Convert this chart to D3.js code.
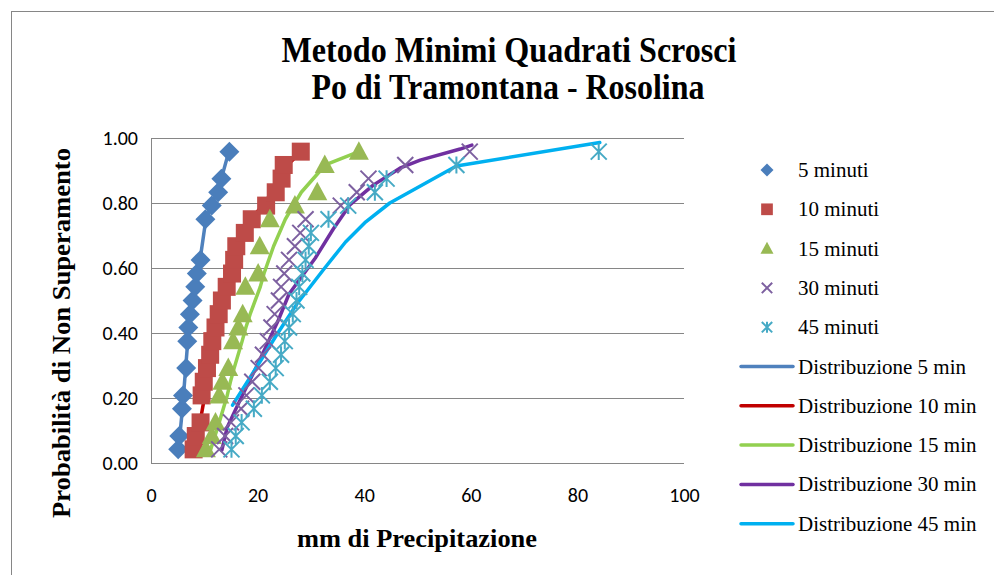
<!DOCTYPE html>
<html>
<head>
<meta charset="utf-8">
<script src="https://cdn.jsdelivr.net/npm/d3@7"></script>
<style>
  body { margin: 0; background: #fff; }
  svg { display: block; }
</style>
</head>
<body>
<svg id="chart" width="994" height="575"></svg>
<script>
// ---- data: plotting probability (non-exceedance) vs rainfall depth (mm) ----
const xTicks = [0, 20, 40, 60, 80, 100];
const yTicks = [0, 0.2, 0.4, 0.6, 0.8, 1.0];

// observed samples
const p5  = [0.042, 0.083, 0.167, 0.208, 0.292, 0.375, 0.417, 0.458, 0.5, 0.542, 0.583, 0.625, 0.75, 0.792, 0.833, 0.875, 0.958];
const mm5 = [5.1, 5.3, 5.8, 6.0, 6.6, 6.8, 7.0, 7.3, 7.8, 8.3, 8.6, 9.3, 10.2, 11.4, 12.6, 13.2, 14.7];

const p10  = [0.042, 0.083, 0.125, 0.208, 0.25, 0.292, 0.333, 0.375, 0.417, 0.458, 0.5, 0.542, 0.583, 0.625, 0.667, 0.708, 0.75, 0.792, 0.833, 0.875, 0.917, 0.958];
const mm10 = [8.0, 8.4, 9.3, 9.5, 9.9, 10.5, 11.1, 11.5, 12.1, 12.7, 13.3, 14.2, 15.2, 15.6, 16.0, 17.6, 18.9, 21.6, 23.4, 24.5, 24.9, 28.1];

const p15  = [0.042, 0.083, 0.125, 0.208, 0.25, 0.292, 0.375, 0.417, 0.458, 0.542, 0.583, 0.667, 0.75, 0.792, 0.833, 0.917, 0.958];
const mm15 = [10.3, 11.4, 12.1, 12.8, 13.4, 14.5, 15.4, 16.4, 17.2, 17.7, 20.1, 20.4, 22.3, 27.0, 31.2, 32.6, 39.0];

const p30  = [0.042, 0.083, 0.125, 0.167, 0.208, 0.25, 0.292, 0.333, 0.375, 0.417, 0.458, 0.5, 0.542, 0.583, 0.625, 0.667, 0.708, 0.75, 0.792, 0.833, 0.875, 0.917, 0.958];
const mm30 = [12.8, 13.9, 15.0, 16.9, 17.9, 19.0, 20.2, 21.0, 21.9, 22.6, 23.2, 24.0, 24.4, 25.0, 25.9, 27.0, 28.0, 29.0, 35.6, 38.6, 40.8, 47.7, 59.8];

const p45  = [0.042, 0.083, 0.125, 0.167, 0.208, 0.25, 0.292, 0.333, 0.375, 0.417, 0.458, 0.5, 0.542, 0.583, 0.625, 0.667, 0.708, 0.75, 0.792, 0.833, 0.875, 0.917, 0.958];
const mm45 = [15.1, 15.9, 17.0, 19.3, 20.8, 22.3, 23.4, 24.4, 25.1, 25.9, 26.6, 27.3, 27.8, 28.4, 29.0, 29.6, 30.0, 33.3, 37.0, 42.0, 44.2, 57.3, 84.0];

// fitted distributions
const distP5  = [0.042, 0.083, 0.167, 0.208, 0.292, 0.375, 0.417, 0.458, 0.5, 0.542, 0.583, 0.625, 0.75, 0.792, 0.833, 0.875, 0.958];
const distMm5 = [5.0, 5.4, 5.9, 6.1, 6.5, 6.9, 7.1, 7.4, 7.8, 8.2, 8.6, 9.2, 10.3, 11.3, 12.4, 13.2, 14.6];

const distP10  = [0.042, 0.083, 0.125, 0.208, 0.25, 0.292, 0.333, 0.375, 0.417, 0.458, 0.5, 0.542, 0.583, 0.625, 0.667, 0.708, 0.75, 0.792, 0.833, 0.875, 0.917, 0.958];
const distMm10 = [8.2, 8.7, 9.2, 10.1, 10.5, 11.0, 11.5, 12.0, 12.5, 13.1, 13.7, 14.3, 15.0, 15.7, 16.5, 17.5, 18.7, 20.9, 22.7, 24.0, 25.6, 28.2];

const distP15  = [0.042, 0.083, 0.125, 0.208, 0.25, 0.292, 0.375, 0.417, 0.458, 0.542, 0.583, 0.667, 0.75, 0.792, 0.833, 0.917, 0.958];
const distMm15 = [11.2, 12.0, 12.8, 14.3, 14.9, 15.6, 17.1, 17.8, 18.6, 20.5, 21.2, 23.0, 25.2, 26.7, 28.2, 32.7, 39.0];

const distP30  = [0.04, 0.11, 0.2, 0.31, 0.44, 0.52, 0.63, 0.72, 0.794, 0.855, 0.907, 0.932, 0.966, 0.978];
const distMm30 = [13.3, 14.3, 16.9, 20.2, 23.9, 25.9, 30.8, 34.2, 37.3, 41.7, 46.7, 50.5, 58.0, 60.2];

const distP45  = [0.178, 0.3, 0.4, 0.49, 0.6, 0.68, 0.742, 0.8, 0.914, 0.986];
const distMm45 = [15.3, 20.0, 23.8, 27.4, 32.6, 36.5, 40.3, 44.8, 57.3, 84.2];

const sampleNames = ["5 minuti", "10 minuti", "15 minuti", "30 minuti", "45 minuti"];
const distNames = ["Distribuzione 5 min", "Distribuzione 10 min", "Distribuzione 15 min", "Distribuzione 30 min", "Distribuzione 45 min"];

// ---- build series ----
const zip = (a, b) => a.map((v, i) => [b[i], v]);
const samples = [
  { name: sampleNames[0], pts: zip(p5, mm5),   shape: "diamond",  color: "#4A7EBB" },
  { name: sampleNames[1], pts: zip(p10, mm10), shape: "square",   color: "#BE4B48" },
  { name: sampleNames[2], pts: zip(p15, mm15), shape: "triangle", color: "#98B954" },
  { name: sampleNames[3], pts: zip(p30, mm30), shape: "cross",    color: "#7D60A0" },
  { name: sampleNames[4], pts: zip(p45, mm45), shape: "star",     color: "#46AAC5" }
];
const dists = [
  { name: distNames[0], pts: zip(distP5, distMm5),   color: "#4F81BD" },
  { name: distNames[1], pts: zip(distP10, distMm10), color: "#C00000" },
  { name: distNames[2], pts: zip(distP15, distMm15), color: "#92D050" },
  { name: distNames[3], pts: zip(distP30, distMm30), color: "#7030A0" },
  { name: distNames[4], pts: zip(distP45, distMm45), color: "#00B0F0" }
];

// ---- layout ----
const svg = d3.select("#chart");
const x = d3.scaleLinear().domain([0, 100]).range([151, 684]);
const y = d3.scaleLinear().domain([0, 1]).range([463, 138]);
const gridColor = "#868686";
const serif = "'Liberation Serif', 'Times New Roman', serif";
const sans = "Calibri, Carlito, 'Liberation Sans', Arial, sans-serif";

// chart frame
svg.append("rect")
  .attr("x", 11.5).attr("y", 11.5).attr("width", 1000).attr("height", 600)
  .attr("fill", "#fff").attr("stroke", gridColor).attr("stroke-width", 1);

// titles
svg.append("text")
  .attr("x", 509).attr("y", 62).attr("text-anchor", "middle")
  .attr("font-family", serif).attr("font-weight", "bold").attr("font-size", 36)
  .attr("textLength", 455).attr("lengthAdjust", "spacingAndGlyphs")
  .text("Metodo Minimi Quadrati Scrosci");
svg.append("text")
  .attr("x", 508).attr("y", 99).attr("text-anchor", "middle")
  .attr("font-family", serif).attr("font-weight", "bold").attr("font-size", 36)
  .attr("textLength", 393).attr("lengthAdjust", "spacingAndGlyphs")
  .text("Po di Tramontana - Rosolina");

// gridlines
svg.append("g").selectAll("line").data(yTicks).join("line")
  .attr("x1", x(0)).attr("x2", x(100))
  .attr("y1", d => Math.round(y(d)) + 0.5).attr("y2", d => Math.round(y(d)) + 0.5)
  .attr("stroke", gridColor).attr("stroke-width", 1);
svg.append("line")
  .attr("x1", x(0) + 0.5).attr("x2", x(0) + 0.5).attr("y1", y(1)).attr("y2", y(0))
  .attr("stroke", gridColor).attr("stroke-width", 1);

// axes (labels only)
const yAxis = svg.append("g").attr("transform", `translate(${x(0)},0)`)
  .call(d3.axisLeft(y).tickValues(yTicks).tickFormat(d3.format(".2f")).tickSize(0).tickPadding(13));
const xAxis = svg.append("g").attr("transform", `translate(0,${y(0)})`)
  .call(d3.axisBottom(x).tickValues(xTicks).tickFormat(d3.format("d")).tickSize(0).tickPadding(25));
[yAxis, xAxis].forEach(g => {
  g.select(".domain").remove();
  g.selectAll("text").attr("font-family", sans).attr("font-size", 20).attr("fill", "#000");
});

// axis titles
svg.append("text")
  .attr("x", 417).attr("y", 547).attr("text-anchor", "middle")
  .attr("font-family", serif).attr("font-weight", "bold").attr("font-size", 25)
  .attr("textLength", 240).attr("lengthAdjust", "spacingAndGlyphs")
  .text("mm di Precipitazione");
svg.append("text")
  .attr("transform", "translate(70,333) rotate(-90)").attr("text-anchor", "middle")
  .attr("font-family", serif).attr("font-weight", "bold").attr("font-size", 25)
  .attr("textLength", 370).attr("lengthAdjust", "spacingAndGlyphs")
  .text("Probabilità di Non Superamento");

// distribution lines
const line = d3.line().x(d => x(d[0])).y(d => y(d[1]));
svg.append("g").selectAll("path").data(dists).join("path")
  .attr("d", d => line(d.pts))
  .attr("fill", "none").attr("stroke", d => d.color)
  .attr("stroke-width", 3.5).attr("stroke-linejoin", "round").attr("stroke-linecap", "round");

// marker drawing
function drawMarker(g, shape, color, s) {
  if (shape === "diamond") {
    g.append("path").attr("d", `M0,${-s}L${s},0L0,${s}L${-s},0Z`).attr("fill", color);
  } else if (shape === "square") {
    const h = s * 0.9;
    g.append("rect").attr("x", -h).attr("y", -h).attr("width", 2 * h).attr("height", 2 * h).attr("fill", color);
  } else if (shape === "triangle") {
    g.append("path").attr("d", `M0,${-s * 1.05}L${s},${s * 0.8}L${-s},${s * 0.8}Z`).attr("fill", color);
  } else if (shape === "cross" || shape === "star") {
    const c = s * 0.8;
    let d = `M${-c},${-c}L${c},${c}M${-c},${c}L${c},${-c}`;
    if (shape === "star") d += `M0,${-c * 1.05}L0,${c * 1.05}`;
    g.append("path").attr("d", d).attr("fill", "none").attr("stroke", color).attr("stroke-width", 2);
  }
}

samples.forEach(sr => {
  const g = svg.append("g");
  sr.pts.forEach(pt => {
    const m = g.append("g").attr("transform", `translate(${x(pt[0])},${y(pt[1])})`);
    drawMarker(m, sr.shape, sr.color, 10);
  });
});

// legend
const legX = 767, legTextX = 798, legY0 = 170, legStep = 39.3;
samples.forEach((sr, i) => {
  const ry = legY0 + i * legStep;
  const m = svg.append("g").attr("transform", `translate(${legX},${ry})`);
  drawMarker(m, sr.shape, sr.color, 6.5);
  svg.append("text").attr("x", legTextX).attr("y", ry + 7)
    .attr("font-family", serif).attr("font-size", 21).attr("fill", "#000").text(sr.name);
});
dists.forEach((ds, i) => {
  const ry = legY0 + (i + 5) * legStep;
  svg.append("line").attr("x1", 741).attr("x2", 793).attr("y1", ry).attr("y2", ry)
    .attr("stroke", ds.color).attr("stroke-width", 3.5).attr("stroke-linecap", "round");
  svg.append("text").attr("x", legTextX).attr("y", ry + 7)
    .attr("font-family", serif).attr("font-size", 21).attr("fill", "#000").text(ds.name);
});
</script>
</body>
</html>
